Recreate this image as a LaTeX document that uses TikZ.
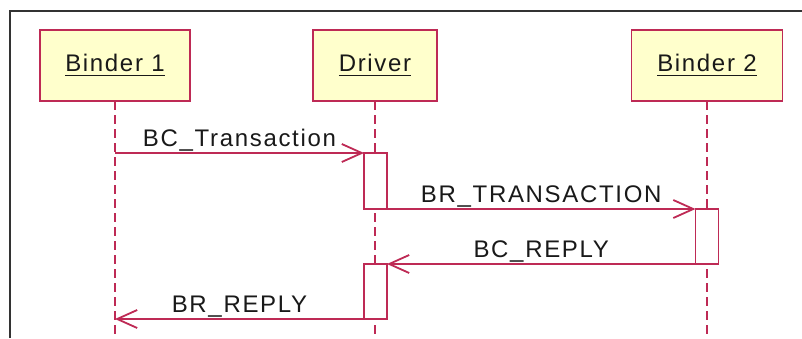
\documentclass[tikz,border=0pt]{standalone}
\usepackage{fontspec}
\setmainfont{Liberation Sans}[LetterSpace=7]
\usetikzlibrary{arrows.meta}
\definecolor{umlred}{HTML}{BE2A55}
\definecolor{umlfill}{HTML}{FFFFCC}
\definecolor{framegray}{HTML}{333333}

% underlined object name of a lifeline head
\newcommand\objname[1]{\setbox0\hbox{#1}\rlap{\rule[-4.5pt]{\wd0}{1.9pt}}\box0}

\begin{document}
\begin{tikzpicture}[x=1pt,y=-1pt,
  every node/.style={font=\fontsize{24}{28}\selectfont, text=black!90},
  headbox/.style={draw=umlred, fill=umlfill, line width=1.8pt,
    minimum height=71pt, inner sep=0pt, outer sep=0pt},
  actbox/.style={draw=umlred, fill=white, line width=1.8pt,
    minimum width=23pt, inner sep=0pt, outer sep=0pt},
  lifeline/.style={draw=umlred, line width=1.8pt, dash pattern=on 9pt off 5pt},
  msg/.style={draw=umlred, line width=1.8pt,
    -{Straight Barb[length=20pt, width=18pt]}},
  lbl/.style={midway, anchor=base, yshift=6.5pt, inner sep=0pt}]

\useasboundingbox (0,0) rectangle (802,338);

% diagram frame
\draw[framegray, line width=1.6pt] (10,338) -- (10,11) -- (802,11);

\coordinate (bottom) at (0,338);

% lifeline heads
\node[headbox, minimum width=150pt] (b1) at (115,65.5) {\objname{Binder 1}};
\node[headbox, minimum width=124pt] (drv) at (375,65.5) {\objname{Driver}};
\node[headbox, minimum width=151pt] (b2) at (707,65.5) {\objname{Binder 2}};

% lifelines
\draw[lifeline] (b1.south) -- (b1 |- bottom);
\draw[lifeline] (drv.south) -- (drv |- bottom);
\draw[lifeline] (b2.south) -- (b2 |- bottom);

% activations
\node[actbox, minimum height=56pt] (a1) at (375.5,181) {};
\node[actbox, minimum height=55pt] (a2) at (707,236.5) {};
\node[actbox, minimum height=55pt] (a3) at (375.5,291.5) {};

% messages
\coordinate (s1) at (b1 |- a1.north);
\coordinate (e4) at (b1 |- a3.south);
\draw[msg] (s1) -- node[lbl] {BC\_Transaction} (a1.north west);
\draw[msg] (a1.south east) -- node[lbl] {BR\_TRANSACTION} (a2.north west);
\draw[msg] (a2.south west) -- node[lbl] {BC\_REPLY} (a3.north east);
\draw[msg] (a3.south west) -- node[lbl] {BR\_REPLY} (e4);

\end{tikzpicture}
\end{document}
